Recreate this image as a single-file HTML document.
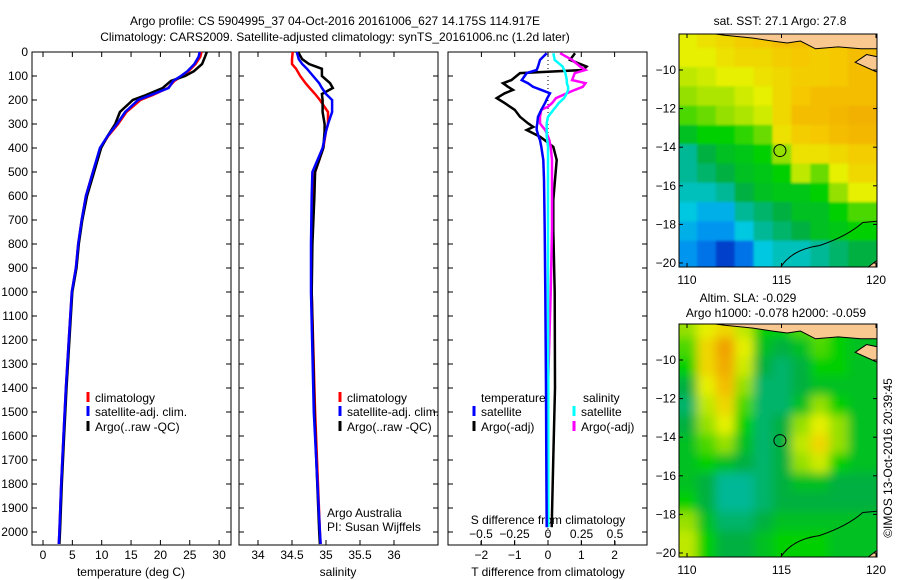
<!DOCTYPE html>
<html><head><meta charset="utf-8"><style>
body{margin:0;background:#fff;}
svg{display:block;font-family:"Liberation Sans",sans-serif;}
text{font-size:12px;fill:#000;}
</style></head><body>
<svg id="c" width="900" height="580" viewBox="0 0 900 580" xmlns="http://www.w3.org/2000/svg">
<defs><filter id="bl" x="0" y="0" width="1" height="1"><feGaussianBlur stdDeviation="5" edgeMode="duplicate"/></filter>
<filter id="bl2" x="0" y="0" width="1" height="1"><feGaussianBlur stdDeviation="1.2" edgeMode="duplicate"/></filter>
<clipPath id="cm1"><rect x="679" y="34" width="198" height="233"/></clipPath>
<clipPath id="cm2"><rect x="679" y="324" width="198" height="233"/></clipPath></defs>
<text x="335" y="25" text-anchor="middle">Argo profile: CS 5904995_37 04-Oct-2016 20161006_627 14.175S 114.917E</text>
<text x="335" y="41" text-anchor="middle">Climatology: CARS2009. Satellite-adjusted climatology: synTS_20161006.nc (1.2d later)</text>
<g id="g"></g>
</svg>
<script>
// ---- data ----
const depthT=[0,20,50,80,100,120,150,180,200,250,300,350,400,500,600,700,800,900,1000,1200,1400,1600,1800,2000,2050];
const tempClim=[27.0,26.8,26.0,24.8,23.7,22.4,21.3,18.6,16.6,14.2,12.8,11.1,9.8,8.5,7.3,6.6,6.0,5.6,4.9,4.4,3.9,3.5,3.1,2.8,2.7];
const tempSat=[26.7,26.5,25.8,24.6,23.5,22.2,21.4,18.3,16.2,14.0,12.6,11.0,9.7,8.5,7.3,6.6,6.0,5.6,4.9,4.4,3.9,3.5,3.1,2.8,2.7];
const tempArgo=[27.9,27.6,27.1,25.7,24.2,21.8,20.4,17.5,15.3,13.1,12.3,11.0,9.9,8.7,7.5,6.7,6.1,5.7,5.0,4.5,4.0,3.6,3.2,2.9,2.8];
const depthS=[0,30,50,70,100,130,150,175,200,250,300,330,400,500,600,800,1000,1500,2000,2050];
const salClim=[34.51,34.5,34.5,34.56,34.62,34.7,34.76,34.84,34.91,35.03,35.03,35.0,34.96,34.84,34.8,34.79,34.79,34.84,34.91,34.92];
const salSat=[34.57,34.6,34.65,34.72,34.81,34.9,34.94,35.0,35.09,35.09,35.03,35.0,34.95,34.8,34.79,34.78,34.78,34.82,34.91,34.92];
const salArgo=[34.59,34.65,34.75,34.94,34.94,35.06,35.1,34.94,34.95,34.95,34.98,34.98,34.96,34.84,34.83,34.8,34.79,34.83,34.9,34.91];
const depthD=[5,33,61,75,88,117,130,145,158,172,192,213,228,241,270,297,312,325,353,367,395,450,533,617,742,1000,1400,1690,1980];
const dTsat=[-0.04,-0.24,-0.3,-0.34,-0.64,-0.79,-0.6,-0.45,-0.2,0.06,-0.02,-0.09,-0.15,-0.2,-0.3,-0.32,-0.34,-0.34,-0.28,-0.24,-0.2,-0.14,-0.12,-0.11,-0.1,-0.08,-0.06,-0.05,-0.04];
const dTargo=[0.81,0.66,1.16,1.05,-0.84,-1.1,-1.35,-1.2,-1.05,-1.3,-1.54,-1.3,-1.14,-1.0,-0.84,-0.6,-0.44,-0.64,-0.24,-0.1,0.16,0.26,0.21,0.16,0.16,0.2,0.21,0.16,0.11];
const dSsat=[0.04,0.05,0.11,0.12,0.13,0.14,0.14,0.15,0.15,0.14,0.12,0.08,0.06,0.04,0.0,-0.01,-0.01,-0.01,-0.01,-0.005,0,0,0,0,0,0,0.002,0.002,0.002];
const dSargo=[0.09,0.18,0.24,0.28,0.2,0.18,0.28,0.26,0.2,0.14,0.06,0.03,0.0,-0.05,-0.06,-0.06,-0.04,-0.02,0.0,0.01,0.02,0.03,0.03,0.03,0.03,0.02,0.0,-0.01,null];
const depthTicks=[0,100,200,300,400,500,600,700,800,900,1000,1100,1200,1300,1400,1500,1600,1700,1800,1900,2000];
const tTicks=[0,5,10,15,20,25,30];
const sTicks=[34,34.5,35,35.5,36];
const dTTicks=[-2,-1,0,1,2];
const dSTicks=[-0.5,-0.25,0,0.25,0.5];
const sstGrid=[
[0.85,0.88,0.9,0.92,0.93,0.95,0.95,0.95,0.95,0.98],
[0.85,0.85,0.88,0.9,0.9,0.92,0.93,0.92,0.93,0.95],
[0.8,0.82,0.85,0.85,0.88,0.9,0.92,0.92,0.93,0.95],
[0.75,0.78,0.78,0.82,0.85,0.9,0.93,0.95,0.95,0.95],
[0.7,0.72,0.75,0.78,0.82,0.9,0.95,0.95,0.96,0.97],
[0.6,0.65,0.65,0.68,0.72,0.88,0.92,0.93,0.95,0.96],
[0.45,0.55,0.6,0.62,0.65,0.75,0.88,0.88,0.9,0.92],
[0.45,0.5,0.55,0.6,0.62,0.65,0.8,0.72,0.85,0.9],
[0.4,0.4,0.45,0.55,0.6,0.62,0.62,0.65,0.75,0.85],
[0.35,0.3,0.3,0.45,0.5,0.55,0.6,0.6,0.65,0.7],
[0.3,0.25,0.25,0.35,0.45,0.5,0.55,0.6,0.62,0.65],
[0.25,0.2,0.1,0.2,0.35,0.4,0.4,0.45,0.5,0.55]];
const slaGrid=[
[0.75,0.85,0.9,0.8,0.65,0.65,0.7,0.72,0.65,0.6],
[0.7,0.9,1.0,0.85,0.6,0.55,0.6,0.7,0.65,0.6],
[0.65,0.9,0.98,0.82,0.55,0.5,0.55,0.65,0.65,0.6],
[0.55,0.85,0.95,0.75,0.5,0.5,0.55,0.6,0.6,0.6],
[0.5,0.8,0.9,0.7,0.5,0.5,0.6,0.75,0.65,0.6],
[0.55,0.75,0.85,0.65,0.5,0.55,0.75,0.85,0.75,0.6],
[0.6,0.7,0.75,0.6,0.5,0.55,0.8,0.9,0.75,0.6],
[0.6,0.65,0.6,0.55,0.5,0.55,0.75,0.82,0.65,0.6],
[0.6,0.55,0.45,0.45,0.5,0.55,0.6,0.6,0.55,0.55],
[0.65,0.55,0.45,0.45,0.5,0.55,0.55,0.55,0.55,0.55],
[0.75,0.6,0.5,0.5,0.55,0.6,0.6,0.6,0.6,0.6],
[0.8,0.65,0.55,0.55,0.6,0.65,0.65,0.65,0.6,0.6]];
const lonTicks=[110,115,120];
const latTicks=[-10,-12,-14,-16,-18,-20];
const argoLon=114.917, argoLat=-14.175;

// ---- scales ----
const PB=545; // panel bottom
const yD=d=>52+d*0.24;
const xT=t=>43+t*5.87;
const xS=s=>258+(s-34)*68;
const xDT=t=>548+t*33.3;
const xDS=s=>548+s*134;
const xLon=l=>687+(l-110)*18.9;
const yLat1=l=>70+(-10-l)*19.3;
const yLat2=l=>360+(-10-l)*19.3;

const NS="http://www.w3.org/2000/svg";
const G=document.getElementById('g');
function mk(tag,attrs,parent){const e=document.createElementNS(NS,tag);for(const k in attrs)e.setAttribute(k,attrs[k]);(parent||G).appendChild(e);return e;}
function txt(x,y,s,anchor,parent){const t=mk('text',{x:x,y:y,'text-anchor':anchor||'start'},parent);t.textContent=s;return t;}

function line(xs,ds,xf,color,name,w){
  let p='';xs.forEach((v,i)=>{if(v===null)return;p+=(p?'L':'M')+xf(v).toFixed(1)+','+yD(ds[i]).toFixed(1);});
  const e=mk('path',{d:p,fill:'none',stroke:color,'stroke-width':w||2.5,'stroke-linejoin':'miter'});
  
  
}
function panel(x0,name){
  const r=mk('rect',{x:x0,y:52,width:199,height:PB-52,fill:'none',stroke:'#000','stroke-width':1});
  
  
  depthTicks.forEach(d=>{mk('line',{x1:x0,x2:x0+5,y1:yD(d),y2:yD(d),stroke:'#000'});mk('line',{x1:x0+199,x2:x0+194,y1:yD(d),y2:yD(d),stroke:'#000'});});
}
panel(32,'temperature-panel');panel(239,'salinity-panel');panel(448,'difference-panel');
depthTicks.forEach(d=>{const t=txt(28,yD(d)+4,String(d),'end');
  
  });
function xticks(vals,f,yl){vals.forEach(v=>{const x=f(v);mk('line',{x1:x,x2:x,y1:52,y2:57,stroke:'#000'});mk('line',{x1:x,x2:x,y1:PB,y2:PB-5,stroke:'#000'});
  const t=txt(x,yl,String(v).replace('-','\u2212'),'middle');
  
  });}
xticks(tTicks,xT,559);
xticks(sTicks,xS,559);
xticks(dTTicks,xDT,559);
dSTicks.forEach(v=>{const x=xDS(v);mk('line',{x1:x,x2:x,y1:PB,y2:PB-4,stroke:'#000'});
  const t=txt(x,538,String(v).replace('-','\u2212'),'middle');
  
  });
[['temperature (deg C)',131],['salinity',338],['T difference from climatology',548]].forEach(a=>{const t=txt(a[1],576,a[0],'middle');
  
  });
{const t=txt(548,524,'S difference from climatology','middle');
  
  }
mk('line',{x1:548,x2:548,y1:52,y2:PB,stroke:'#000','stroke-dasharray':'1,3'});

line(tempClim,depthT,xT,'#f00','temperature-climatology');
line(tempArgo,depthT,xT,'#000','temperature-argo');
line(tempSat,depthT,xT,'#00f','temperature-satellite');
line(salClim,depthS,xS,'#f00','salinity-climatology');
line(salArgo,depthS,xS,'#000','salinity-argo');
line(salSat,depthS,xS,'#00f','salinity-satellite');
line(dTargo,depthD,xDT,'#000','t-diff-argo');
line(dSargo,depthD,xDS,'#f0f','s-diff-argo');
line(dSsat,depthD,xDS,'#0ff','s-diff-satellite');
line(dTsat,depthD,xDT,'#00f','t-diff-satellite');

function leg(x,y,color,label){mk('line',{x1:x,x2:x,y1:y-10,y2:y,stroke:color,'stroke-width':3});
  const t=txt(x+7,y,label);
  
  }
[[88],[340]].forEach(p=>{leg(p[0],402,'#f00','climatology');leg(p[0],416,'#00f','satellite-adj. clim.');leg(p[0],431,'#000','Argo(..raw -QC)');});
txt(481,402,'temperature');txt(583,402,'salinity');
leg(474,416,'#00f','satellite');leg(474,431,'#000','Argo(-adj)');
leg(574,416,'#0ff','satellite');leg(574,431,'#f0f','Argo(-adj)');
txt(327,517,'Argo Australia');txt(327,531,'PI: Susan Wijffels');

const stops=[[0,[0,32,160]],[0.15,[0,80,224]],[0.25,[0,150,240]],[0.35,[0,200,224]],[0.45,[0,184,150]],[0.55,[0,176,64]],[0.65,[0,208,0]],[0.75,[150,224,0]],[0.85,[230,240,0]],[0.93,[245,200,0]],[1,[240,160,0]]];
function cmap(v){for(let i=1;i<stops.length;i++){if(v<=stops[i][0]){const a=stops[i-1],b=stops[i],f=(v-a[0])/(b[0]-a[0]);return 'rgb('+a[1].map((c,k)=>Math.round(c+(b[1][k]-c)*f)).join(',')+')';}}return 'rgb(240,160,0)';}
function map(grid,yLat,top,clip,name,blur){
  const g=mk('g',{'clip-path':'url(#'+clip+')'});
  
  
  const inner=mk('g',{filter:'url(#'+blur+')'},g);
  mk('rect',{x:670,y:top-10,width:220,height:260,fill:cmap(0.6)},inner);
  grid.forEach((row,r)=>row.forEach((v,c)=>{
    const x=xLon(110+c)-9,y=yLat(-8-r)-3;
    const w=(c===9)?40:20, h=(r===11)?40:20;
    const cell=mk('rect',{x:(c===0?x-20:x),y:(r===0?y-20:y),width:(c===0?w+20:w),height:(r===0?h+20:h),fill:cmap(v)},inner);
    
    
  }));
  const land='#f8c890';
  mk('path',{d:`M${xLon(111.5)} ${top} L${xLon(120.5)} ${top} L${xLon(120.5)} ${yLat(-8.9)} L${xLon(119.2)} ${yLat(-8.9)} L${xLon(118)} ${yLat(-8.8)} L${xLon(116.8)} ${yLat(-8.9)} L${xLon(116)} ${yLat(-8.5)} L${xLon(115.3)} ${yLat(-8.6)} L${xLon(114.5)} ${yLat(-8.5)} L${xLon(113.5)} ${yLat(-8.35)} L${xLon(112)} ${yLat(-8.2)} Z`,fill:land,stroke:'#000','stroke-width':1},g);
  mk('path',{d:`M${xLon(118.9)} ${yLat(-9.6)} L${xLon(119.5)} ${yLat(-9.2)} L${xLon(120.5)} ${yLat(-9.4)} L${xLon(120.5)} ${yLat(-10.3)} L${xLon(119.8)} ${yLat(-10)} Z`,fill:land,stroke:'#000','stroke-width':1},g);
  mk('path',{d:`M${xLon(119.6)} ${yLat(-20.2)} L${xLon(120)} ${yLat(-19.9)} L${xLon(120.5)} ${yLat(-19.9)} L${xLon(120.5)} ${yLat(-20.3)} Z`,fill:land,stroke:'#000'},g);
  mk('path',{d:`M${xLon(114.9)} ${yLat(-20.3)} Q${xLon(115.5)} ${yLat(-19.3)} ${xLon(117)} ${yLat(-19.1)} Q${xLon(118.5)} ${yLat(-18.6)} ${xLon(119.3)} ${yLat(-17.9)} L${xLon(120.5)} ${yLat(-17.8)}`,fill:'none',stroke:'#000','stroke-width':1},g);
  const c=mk('circle',{cx:xLon(argoLon),cy:yLat(argoLat),r:6,fill:'none',stroke:'#000','stroke-width':1});
  
  
  mk('rect',{x:679,y:top,width:198,height:233,fill:'none',stroke:'#000'});
  latTicks.forEach(l=>{const y=yLat(l);mk('line',{x1:679,x2:683,y1:y,y2:y,stroke:'#000'});mk('line',{x1:877,x2:873,y1:y,y2:y,stroke:'#000'});
    const t=txt(676,y+4,String(l).replace('-','\u2212'),'end');
    
    });
  lonTicks.forEach(l=>{const x=xLon(l);mk('line',{x1:x,x2:x,y1:top,y2:top+4,stroke:'#000'});mk('line',{x1:x,x2:x,y1:top+233,y2:top+229,stroke:'#000'});
    const t=txt(x,top+250,String(l),'middle');
    
    });
}
map(sstGrid,yLat1,34,'cm1','sst-map','bl2');
map(slaGrid,yLat2,324,'cm2','sla-map','bl');
txt(780,25,'sat. SST: 27.1  Argo: 27.8','middle');
txt(748,302,'Altim. SLA: -0.029','middle');
txt(776,317,'Argo h1000: -0.078 h2000: -0.059','middle');
{const t=txt(0,0,'\u00A9IMOS 13-Oct-2016 20:39:45','middle');t.setAttribute('transform','translate(892,458) rotate(-90)');
  
  }
</script>
</body></html>
